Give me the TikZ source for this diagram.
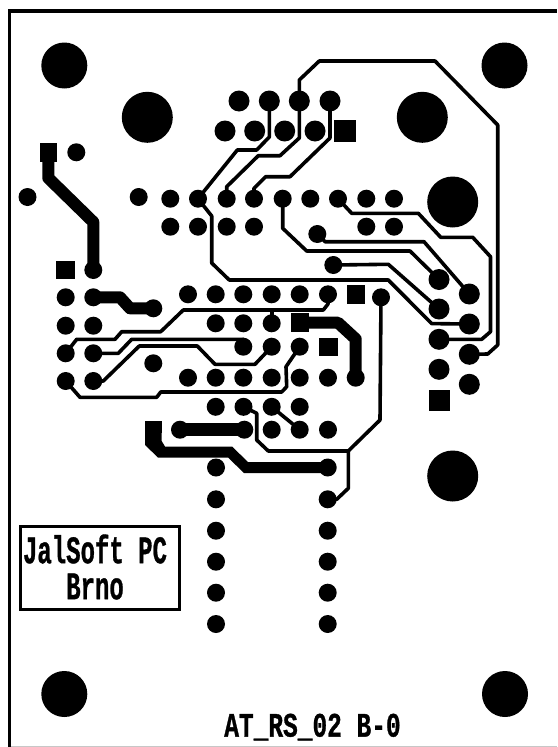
\documentclass[tikz,border=0pt]{standalone}
\usepackage{fontspec}
\setmainfont{Liberation Mono}
\newfontfamily\labfont[BoldFeatures={FakeBold=1}]{Liberation Mono}
\tikzset{
  pad/.style={circle,fill=black,inner sep=0pt,minimum size=18pt},
  bigpad/.style={circle,fill=black,inner sep=0pt,minimum size=21pt},
  sqpad/.style={rectangle,fill=black,inner sep=0pt,minimum size=18.5pt},
  mounta/.style={circle,fill=black,inner sep=0pt,minimum size=46pt},
  mountb/.style={circle,fill=black,inner sep=0pt,minimum size=51pt},
  thin trace/.style={draw=black,line width=3.6pt,line join=round},
  thick trace/.style={draw=black,line width=12pt,line join=round},
  label text/.style={inner sep=0pt,font=\labfont\bfseries\fontsize{24}{24}\selectfont}
}
\begin{document}
\begin{tikzpicture}[x=1pt,y=-1pt]
\useasboundingbox (0,0) rectangle (557,747);
\fill[white] (0,0) rectangle (557,747);
% board outline
\fill[black] (8.3,9) rectangle (557,13.2);
\fill[black] (8.3,9) rectangle (11,747);
\fill[black!22] (11,745.5) rectangle (557,747);
% mounting holes
\foreach \n/\x/\y in {ma/64.3/65.5,mb/504.5/65.5,mc/64.3/694,md/505/694}
  \node[mounta] (\n) at (\x,\y) {};
\foreach \n/\x/\y in {me/147.3/117.3,mf/422.3/117.3,mg/452.7/202,mh/452.7/476}
  \node[mountb] (\n) at (\x,\y) {};
% upper connector
\foreach \n/\x/\y in {ua/239/101,ub/269.3/101,uc/299.3/101,ud/330/101,ue/225/131,uf/254.7/131,ug/284.7/131,uh/315/131}
  \node[bigpad] (\n) at (\x,\y) {};
\node[sqpad,minimum size=22pt] (us) at (345,131) {};
% pads left
\node[rectangle,fill=black,inner sep=0pt,minimum width=16.7pt,minimum height=18.7pt] (sa) at (48.3,152.3) {};
\foreach \n/\x/\y in {la/76.3/152.3,lb/27.5/197,lc/138.7/197}
  \node[pad] (\n) at (\x,\y) {};
% rows 198.7 and 226.7
\foreach \n/\x in {ra/170.3,rb/198,rc/226.7,rd/254,re/282.7,rf/310.3,rg/338,rh/366.3,ri/394}
  \node[pad] (\n) at (\x,198.7) {};
\foreach \n/\x in {qa/170.3,qb/198,qc/226.7,qd/254,qe/366.3,qf/394}
  \node[pad] (\n) at (\x,226.7) {};
\node[pad] (va) at (317.3,234) {};
\node[pad] (vb) at (333.3,265) {};
% left connector
\node[sqpad] (cs) at (65.7,270) {};
\foreach \n/\x/\y in {ca/93.3/270,cb/65.7/297.3,cc/93.3/297.3,cd/65.7/325.7,ce/93.3/325.7,cf/65.7/353.3,cg/93.3/353.3,ch/65.7/381,ci/93.3/381,cj/153.3/308.3,ck/153.3/363.3}
  \node[pad] (\n) at (\x,\y) {};
% centre IC rows
\foreach \n/\x in {ta/188,tb/215.7,tc/243.3,td/271.7,te/299.7,tf/328}
  \node[pad] (\n) at (\x,294.3) {};
\node[sqpad] (ts) at (356,294.3) {};
\node[pad] (tg) at (381,297.3) {};
\foreach \n/\x in {sb/215.7,sc/243.3,sd/271.7}
  \node[pad] (\n) at (\x,323.3) {};
\node[sqpad] (se) at (299.8,322.5) {};
\foreach \n/\x in {kc/243.3,kd/271.7,ke/299.7}
  \node[pad] (\n) at (\x,346.7) {};
\node[sqpad] (ks) at (328.3,347.2) {};
\foreach \n/\x in {ja/188,jb/215.7,jc/243.3,jd/271.7,je/299.7,jf/328,jg/355.7}
  \node[pad] (\n) at (\x,377.7) {};
\foreach \n/\x in {ga/215.7,gb/243.5,gc/271.7,gd/299.7}
  \node[pad] (\n) at (\x,406.8) {};
\foreach \n/\x in {ha/180,hb/244.3,hc/271.7,hd/299.7,he/328}
  \node[pad] (\n) at (\x,429.7) {};
\node[rectangle,fill=black,inner sep=0pt,minimum width=16.7pt,minimum height=12pt] (hs) at (153.3,427) {};
% right connector
\foreach \n/\x/\y in {xa/439/279.5,xb/469.3/294,xc/439/309,xd/469.3/324,xe/439/339.3,xf/469.3/354.3,xg/439/369.3,xh/469.3/384.3}
  \node[bigpad] (\n) at (\x,\y) {};
\node[sqpad,minimum size=21pt] (xs) at (439,400) {};
% lower headers
\foreach \i/\y in {1/467.5,2/499.3,3/530.7,4/561.7,5/592.7,6/624}{
  \node[pad] (ba\i) at (216,\y) {};
  \node[pad] (bb\i) at (327.7,\y) {};
}
% thick traces
\draw[thick trace] (sa.center) -- (48.3,178) -- (93.3,222) -- (ca.center);
\draw[thick trace] (cc.center) -- (120,297.3) -- (130,308.3) -- (cj.center);
\draw[thick trace] (se.center) -- (338,322.7) -- (355.7,339) -- (jg.center);
\draw[thick trace,line width=12.5pt] (ha.center) -- (hb.center);
\fill[black] (145,421) -- (161.7,421) -- (161.7,441) -- (165,446.5) -- (232,446.5) -- (248,462) -- (327.7,462) -- (327.7,473) -- (244,473) -- (228,457.5) -- (158,457.5) -- (145,445) -- cycle;
% thin traces
\draw[thin trace] (ub.center) -- (269.3,137) -- (256.7,150) -- (237.3,150) -- (rb.center) -- (211.7,216) -- (211.7,263) -- (229.3,280) -- (388.3,280) -- (431.7,323.6) -- (xd.center);
\draw[thin trace] (rc.center) -- (226.7,186.7) -- (258.3,155.7) -- (280,155.7) -- (299.3,138) -- (uc.center) -- (299.3,80) -- (319.3,61) -- (435,61) -- (497.7,125) -- (497.7,345) -- (487.7,354) -- (xf.center);
\draw[thin trace] (rd.center) -- (254,188.3) -- (265.7,176.7) -- (290,176.7) -- (330,138) -- (ud.center);
\draw[thin trace] (re.center) -- (282.7,228.3) -- (306.7,251) -- (410,251) -- (xa.center);
\draw[thin trace] (va.center) -- (325,241.7) -- (424,241.7) -- (xb.center);
\draw[thin trace] (vb.center) -- (388.3,264.3) -- (xc.center);
\draw[thin trace] (rg.center) -- (351.7,213.3) -- (418.3,213.3) -- (440.7,237.3) -- (472.7,237.3) -- (490.5,256.7) -- (490.5,331.7) -- (481.7,339.3) -- (xe.center);
% left traces
\draw[thin trace] (cf.center) -- (76.7,339.3) -- (115,339.3) -- (121.7,331.7) -- (160.7,331.7) -- (183.3,310) -- (323.3,310) -- (328,304) -- (tf.center);
\draw[thin trace] (271.7,310) -- (sd.center);
\draw[thin trace] (cg.center) -- (118.3,353.3) -- (131.7,339.3) -- (243.3,339.3) -- (kc.center);
\draw[thin trace] (ci.center) -- (103.3,381) -- (139.3,346) -- (197.3,346) -- (215,364.3) -- (255,364.3) -- (kd.center);
\draw[thin trace] (ch.center) -- (80,397.3) -- (156.7,397.3) -- (160.7,392) -- (281.7,392) -- (286.7,386.7) -- (286,366.7) -- (ke.center);
\draw[thin trace] (gc.center) -- (hd.center);
\draw[thin trace] (gb.center) -- (256.7,413.3) -- (256.7,440) -- (268.3,451) -- (348.3,451) -- (380,420) -- (tg.center);
\draw[thin trace] (348.3,451) -- (348.3,488.3) -- (336.7,499.3) -- (bb2.center);
% labels
\draw[draw=black,line width=3.4pt] (20.2,526.7) rectangle (179.3,609.3);
\node[label text,align=center] (t1) at (95,567) {\scalebox{1}[1.62]{JalSoft PC}\\[9pt]\scalebox{1}[1.62]{Brno}};
\node[label text,font=\labfont\bfseries\fontsize{24.5}{24}\selectfont] (t3) at (312.5,727) {\scalebox{1}[1.4]{AT\_RS\_02 B-0}};
\end{tikzpicture}
\end{document}
